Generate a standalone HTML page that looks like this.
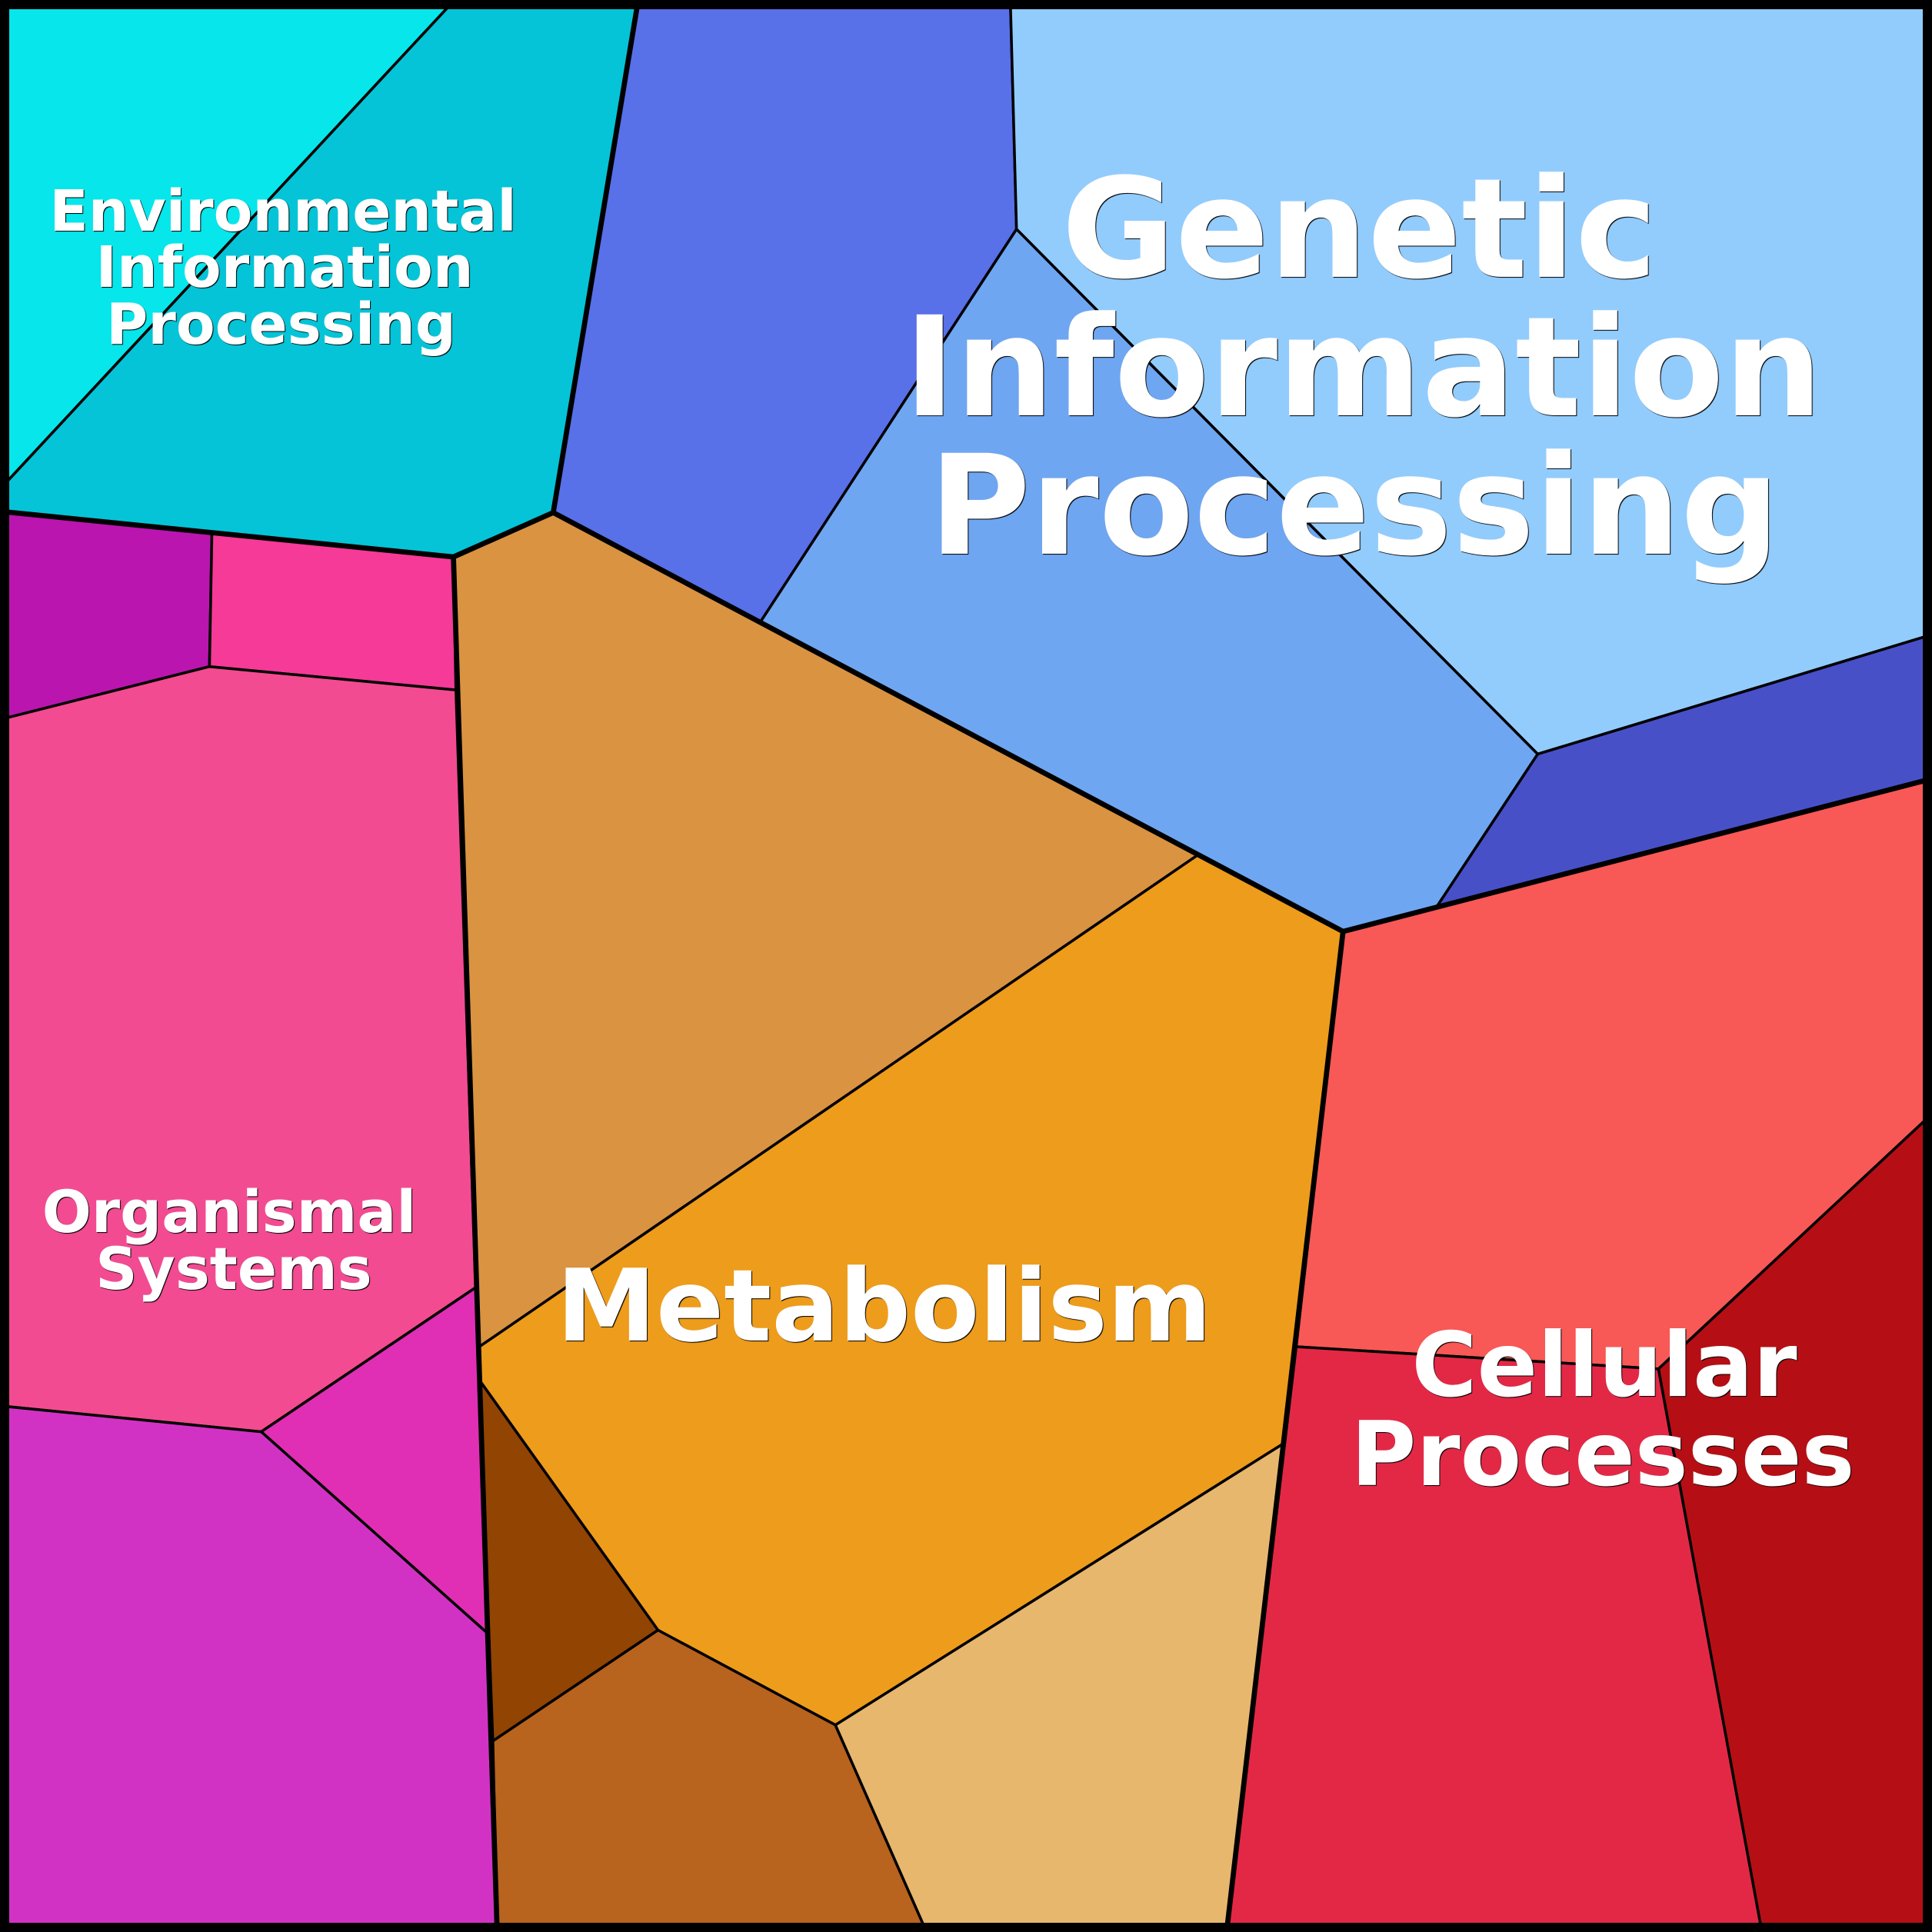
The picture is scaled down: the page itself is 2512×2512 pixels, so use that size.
<!DOCTYPE html>
<html><head><meta charset="utf-8"><style>
html,body{margin:0;padding:0;background:#fff}
#w{position:relative;width:2512px;height:2512px;overflow:hidden}
svg{position:absolute;left:0;top:0}
.t{position:absolute;width:1200px;margin-left:-600px;text-align:center;color:#fff;font-family:"DejaVu Sans",sans-serif;font-weight:bold;white-space:nowrap;text-shadow:1px 1px 0.6px #000}
.a{font-size:180px;line-height:180px}
.b{font-size:74px;line-height:74px}
.c{font-size:75.5px;line-height:75.5px}
.d{font-size:116px;line-height:116px}
</style></head><body><div id="w">
<svg width="2512" height="2512" viewBox="0 0 2512 2512">
<g transform="scale(1.60204)" stroke="#000" stroke-width="2.2" stroke-linejoin="round">
<polygon fill="#06E6EB" points="0,0 369,0 0,397"/>
<polygon fill="#05C4D7" points="369,0 518,0 449,416 368,452 0,415 0,397"/>
<polygon fill="#5870E8" points="518,0 820,0 825,186 617,505 449,416"/>
<polygon fill="#92CCFD" points="820,0 1568,0 1568,515 1248,612 825,186"/>
<polygon fill="#6FA6F1" points="825,186 1248,612 1166,736 1090,756 617,505"/>
<polygon fill="#4850C8" points="1248,612 1568,515 1568,632 1166,736"/>
<polygon fill="#DA9341" points="368,452 449,416 972,694 389,1093"/>
<polygon fill="#EE9C1B" points="972,694 1090,756 1041,1172 678,1400 534,1323 389,1120 389,1093"/>
<polygon fill="#924403" points="389,1120 534,1323 400,1413"/>
<polygon fill="#B8631E" points="400,1413 534,1323 678,1400 752,1568 403.5,1568"/>
<polygon fill="#E7B76E" points="678,1400 1041,1172 995.5,1568 752,1568"/>
<polygon fill="#F85856" points="1090,756 1568,632 1568,904 1346,1111 1052,1093"/>
<polygon fill="#E32846" points="1052,1093 1346,1111 1430,1568 995.5,1568"/>
<polygon fill="#B50F15" points="1346,1111 1568,904 1568,1568 1430,1568"/>
<polygon fill="#BA15AF" points="0,415 172,432 170,541 0,584"/>
<polygon fill="#F53A98" points="172,432 368,452 370,560 170,541"/>
<polygon fill="#F24B91" points="0,584 170,541 370,560 386,1045 212,1162 0,1141"/>
<polygon fill="#E02FB4" points="212,1162 386,1045 395,1325"/>
<polygon fill="#D232C4" points="0,1141 212,1162 395,1325 403.5,1568 0,1568"/>
<g fill="none" stroke-width="4.2">
<polyline points="0,415 368,452 449,416 518,0"/>
<polyline points="449,416 1090,756 1568,632"/>
<polyline points="368,452 403.5,1568"/>
<polyline points="1090,756 995.5,1568"/>
</g>
</g>
<rect x="0" y="0" width="2512" height="2512" fill="none" stroke="#000" stroke-width="24"/>
</svg>
<div class="t a" style="left:1767.5px;top:209px">Genetic</div>
<div class="t a" style="left:1772.5px;top:389px">Information</div>
<div class="t a" style="left:1761px;top:569px">Processing</div>
<div class="t b" style="left:368px;top:238px">Environmental</div>
<div class="t b" style="left:370px;top:311px">Information</div>
<div class="t b" style="left:365.5px;top:384.5px">Processing</div>
<div class="t c" style="left:298px;top:1539px">Organismal</div>
<div class="t c" style="left:304px;top:1613px">Systems</div>
<div class="t" style="left:1149.5px;top:1633px;font-size:130px;line-height:130px">Metabolism</div>
<div class="t d" style="left:2086px;top:1718px">Cellular</div>
<div class="t d" style="left:2084px;top:1834px">Processes</div>
</div></body></html>
